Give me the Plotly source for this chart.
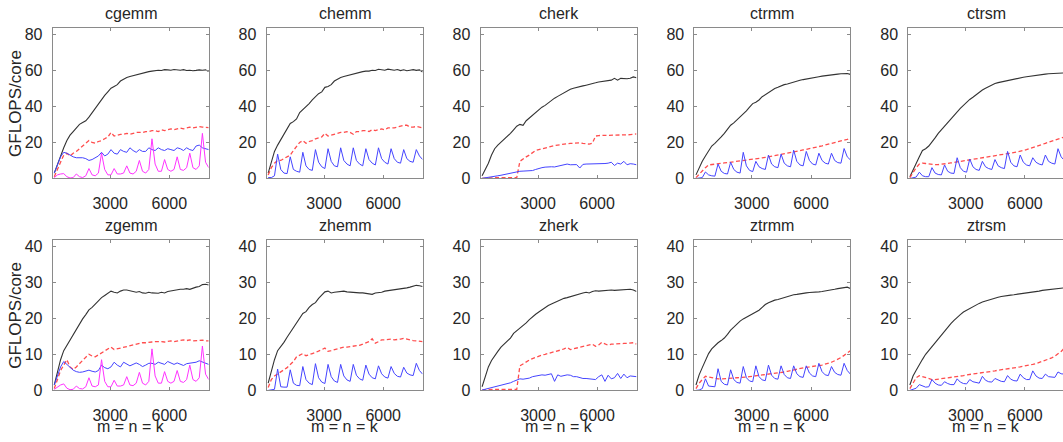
import plotly.graph_objects as go

# ---------------- data ----------------
SIZES = list(range(160, 8001, 160))  # m = n = k
ROUTINES = ["cgemm", "chemm", "cherk", "ctrmm", "ctrsm",
            "zgemm", "zhemm", "zherk", "ztrmm", "ztrsm"]
X_TICKS = [3000, 6000]
Y_TICKS_SINGLE = [0, 20, 40, 60, 80]
Y_TICKS_DOUBLE = [0, 10, 20, 30, 40]
PEAK_SINGLE = 83.2
PEAK_DOUBLE = 41.6

CGEMM_BLACK = [3, 8, 13, 17, 21, 24, 26, 28, 30, 31,
               32, 34, 36.5, 39, 41.5, 44, 46, 48, 50, 51,
               52, 54, 55, 56, 56.5, 57, 57.5, 58, 58.5, 59,
               59.2, 59.5, 59.8, 60, 59.8, 60.3, 60.2, 60, 60.4, 60.2,
               60, 60.3, 59.8, 60, 59.7, 59.9, 60.2, 60, 60.2, 59.2]
CGEMM_RED = [1, 5, 10, 13, 14, 12.5, 14, 15, 16.5, 18,
             19.5, 21, 20, 19.5, 20.5, 21, 22, 23, 25.5, 23.5,
             24, 24.5, 24.5, 25, 24.5, 25, 25.5, 25.5, 25.5, 26,
             26, 26.5, 26.5, 26, 27, 26.5, 27, 27.5, 27, 27.5,
             28, 27.5, 28, 28.5, 28, 28.5, 28.8, 28.5, 28.5, 28.2]
CGEMM_BLUE = [3, 8, 12, 14.5, 14, 13, 12, 11.5, 11.5, 11.5,
              11, 10, 10.5, 11.5, 12.5, 14.5, 12.5, 13.5, 16, 14,
              13.5, 16, 15, 14.5, 17, 15.5, 14.5, 16, 15, 15,
              17, 16, 15.5, 17, 16, 15.5, 16.5, 16, 15.5, 17,
              16.5, 15.5, 17, 16, 15.5, 18, 18.5, 17, 16.5, 16]
CGEMM_MAGENTA = [0.5, 2, 2.5, 2.7, 1.0, 0.3, 0.5, 2.5, 1.0, 0.5,
                 1.5, 5.5, 2, 1.5, 3, 14, 5, 2, 2, 5.5,
                 2.5, 2.5, 3, 7, 3, 2.5, 4, 10, 4, 3,
                 5, 22, 8, 4, 4, 10.5, 5, 4, 5, 12,
                 5, 4.5, 6, 14, 6, 5, 7, 25, 9, 6]

CHEMM_BLACK = [3, 9, 15, 18.5, 21.5, 24.5, 27.5, 30.5, 31.5, 33,
               36.5, 38, 39.5, 41.5, 43.5, 45.5, 47, 48, 50.5, 51,
               52, 54, 55, 56, 56.5, 57, 57.5, 58, 58.5, 59,
               59.2, 59.5, 59.5, 60, 59.8, 60.5, 60.2, 60, 60.6, 60.2,
               60, 60.4, 59.8, 60.2, 59.7, 60, 60.3, 59.9, 60.2, 59]
CHEMM_RED = [2, 6, 8.5, 10, 10, 11, 12, 13, 15.5, 18,
             20, 21, 19.5, 20.5, 21, 22, 22.5, 23, 25, 23.5,
             24, 24.5, 25, 25.5, 25.5, 26, 25.5, 24.5, 26, 26,
             26.5, 26.5, 26, 27, 26.5, 27, 27.5, 27, 28, 28,
             28, 28.5, 29, 29.5, 29.5, 28.5, 28.5, 28.8, 28.5, 28]
CHEMM_BLUE = [0.5, 0.5, 1.5, 13.5, 5, 3, 2.7, 12, 5, 4,
              3.5, 14.5, 7, 5, 4.5, 16, 9, 6.5, 5.5, 16.5,
              9.5, 7, 6.5, 17, 10, 8, 7, 17, 10, 8,
              7, 16.5, 10.5, 8.5, 7.5, 17, 11, 9, 8, 16.5,
              11, 9, 8.5, 16, 11, 9.5, 9, 16, 12.5, 10.5]

CHERK_BLACK = [1.5, 5, 8.5, 13, 16.5, 18.5, 20, 21.5, 23, 25,
               27, 29, 30, 29.5, 32, 33.5, 35.5, 37, 38.5, 39.5,
               40.5, 42, 43.5, 44.5, 45.5, 46.5, 47.5, 48.5, 49.5, 50,
               50.3, 50.8, 51.3, 51.7, 52, 52.5, 53, 53.5, 53.8, 54,
               54.3, 54.5, 55.5, 54.5, 55.5, 55.3, 55.3, 55.5, 56.3, 55.8]
CHERK_RED = [0.1, 0.3, 0.4, 0.4, 0.4, 0.5, 0.5, 0.5, 0.5, 0.5,
             0.5, 0.5, 9.5, 11, 12, 13, 14.5, 15.5, 16, 16.5,
             17, 17.5, 18, 18.2, 18.5, 18.8, 19, 19.3, 19.5, 19.5,
             19.8, 19.8, 19.5, 19.2, 19, 19.5, 23.5, 23.8, 23.8, 23.8,
             23.8, 23.8, 24, 24, 23.8, 24, 24.2, 24.3, 24.5, 24.7]
CHERK_BLUE = [0.1, 0.3, 0.6, 0.9, 1.2, 1.5, 1.8, 2.2, 2.6, 3,
              3.3, 3.7, 4, 4.1, 4.2, 4.3, 4.4, 5, 5.6, 6,
              6.3, 6.6, 6.5, 6.4, 6.8, 7.2, 7.5, 8, 7.6, 7.6,
              7.7, 5.8, 7.8, 8, 8, 8, 8.2, 8, 8, 8.3,
              8.5, 9, 7.2, 8.5, 8, 9.5, 7.6, 8.2, 8, 7.6]

CTRMM_BLACK = [2, 6, 9.5, 12.5, 15.5, 18, 19.5, 21, 23, 25,
               27.5, 29.5, 30.8, 32.5, 34, 35.5, 37.5, 39.5, 41.5, 42.3,
               43.5, 45.3, 46.5, 47.8, 48.8, 49.8, 50.5, 51.3, 52, 52.4,
               53, 53.6, 54, 54.4, 54.8, 55.2, 55.5, 55.8, 56.1, 56.4,
               56.7, 57, 57.2, 57.4, 57.6, 57.8, 58, 58, 58.2, 57.7]
CTRMM_RED = [0.5, 2.5, 4.5, 6, 7.5, 7.8, 8, 8.2, 8.4, 8.6,
             8.8, 9, 9.2, 9.4, 9.6, 9.9, 10.1, 10.3, 10.5, 10.8,
             11.1, 11.4, 11.7, 12, 12.4, 12.7, 13, 13.4, 13.7, 14.1,
             14.4, 14.8, 15.1, 15.4, 15.8, 16.1, 16.5, 16.9, 17.3, 17.7,
             18.1, 18.5, 18.9, 19.3, 19.7, 20.2, 20.7, 21.2, 21.7, 22.3]
CTRMM_BLUE = [0, 0.2, 0.5, 3.6, 2, 1.5, 1.3, 8, 4, 2.8,
              2.5, 9, 5, 3.5, 3, 14.5, 7, 4.5, 3.8, 9.5,
              6.5, 5.5, 5, 13, 8, 6.5, 6, 13.5, 8.5, 7,
              6.5, 15.7, 9.5, 7.5, 7, 15, 10, 8, 7.5, 14,
              10, 8.5, 8, 14, 10, 8.8, 8.5, 16.6, 12, 10.3]

CTRSM_BLACK = [1, 5, 9, 12, 15.5, 16.5, 18, 20, 22.5, 25,
               27, 29, 31, 33.3, 35.5, 37.3, 38.9, 40.5, 42.3, 43.8,
               45, 46.5, 48, 49, 50, 51, 52, 52.6, 53.1, 53.5,
               54, 54.5, 54.9, 55.2, 55.5, 55.8, 56.1, 56.4, 56.7, 57,
               57.2, 57.5, 57.7, 57.8, 58, 58.1, 58.2, 58.3, 58.4, 58.5]
CTRSM_RED = [0.5, 3.5, 6, 8, 8.5, 8.3, 8, 7.8, 7.7, 7.7,
             7.8, 8, 8.3, 8.6, 8.9, 9.2, 9.5, 9.8, 10.1, 10.4,
             10.7, 11, 11.3, 11.7, 12, 12.3, 12.6, 13, 13.2, 13.4,
             13.6, 13.8, 14, 14.3, 14.6, 15, 15.5, 16, 16.5, 17.1,
             17.7, 18.3, 18.9, 19.5, 20.1, 20.7, 21.3, 21.9, 22.5, 23]
CTRSM_BLUE = [0, 0.2, 0.8, 3.5, 1.5, 1, 1, 6, 3, 2.2,
              2, 7.5, 4, 3, 2.8, 11.5, 6, 4, 3.5, 10.8,
              6.5, 5, 4.5, 9.5, 6.5, 5.5, 5, 10.5, 7, 6,
              5.5, 15, 9, 7, 6.5, 13, 9, 7.5, 7, 11.5,
              9, 8, 7.5, 13, 9.5, 8.5, 8, 16.5, 12, 10]

ZGEMM_BLACK = [1.5, 5, 8.5, 11, 12.5, 14, 15.5, 17, 18.3, 19.8,
               21, 22.3, 23, 24, 24.8, 25.7, 26.3, 27, 27.5, 27.2,
               27, 27.5, 27.8, 27.8, 27.6, 27.5, 27.2, 27.4, 27, 26.9,
               27.2, 27, 27, 26.9, 27.2, 27, 27.4, 27.6, 27.8, 27.8,
               28, 28, 28.2, 28, 28.4, 28.6, 28.8, 29.3, 29.4, 29.2]
ZGEMM_RED = [0.5, 3, 5.5, 7, 8.5, 6.5, 5.8, 6.5, 7.5, 8.5,
             9.2, 10, 9.5, 9.3, 9.8, 10.3, 10.8, 11.3, 12, 11.3,
             11.5, 11.8, 12, 12.3, 12.3, 12.5, 12.8, 13, 13.2, 13.2,
             13.4, 13.4, 13.5, 13.6, 13.5, 13.4, 13.6, 13.7, 13.5, 13.7,
             13.8, 14, 13.8, 14, 13.7, 13.8, 13.8, 13.9, 13.7, 13.7]
ZGEMM_BLUE = [1.5, 4, 6.5, 8, 7.2, 6.3, 5.6, 5.2, 5, 5.1,
              5.3, 5.6, 5.3, 5.1, 5.5, 7, 6.3, 6, 6.5, 7.8,
              7, 6.5, 7.8, 7.2, 6.8, 7.2, 7.6, 7.2, 6.6, 7,
              7.5, 7.5, 7.2, 7.8, 7.4, 7.2, 8, 7.6, 7.2, 7.6,
              7.2, 6.9, 7.4, 7.5, 7.6, 7.8, 8.2, 7.9, 7.5, 7.2]
ZGEMM_MAGENTA = [0.3, 1, 1.5, 1.8, 0.6, 0.2, 0.3, 1.2, 0.5, 0.4,
                 1, 3.5, 1.2, 1, 1.5, 8.5, 2.5, 1, 1, 2.8,
                 1.2, 1.2, 1.5, 3.8, 1.5, 1.3, 2, 5, 2, 1.5,
                 2.5, 11.5, 4, 2, 2, 5.2, 2.5, 2, 2.5, 5.5,
                 2.5, 2.2, 3, 7, 3, 2.5, 3.5, 12.3, 4.5, 3]

ZHEMM_BLACK = [2, 5.5, 8.5, 11, 12, 13.3, 14.7, 16, 17.5, 18.6,
               20, 21.3, 21.8, 23, 23.8, 24.3, 25.5, 26.3, 27.3, 27.5,
               27, 27.2, 27.3, 27.4, 27.5, 27.3, 27.2, 27, 27.1, 27,
               27, 26.9, 26.7, 26.6, 27, 27, 27.2, 27.5, 27.6, 27.8,
               28, 28, 28.2, 28.3, 28.4, 28.6, 28.9, 29.1, 29, 28.8]
ZHEMM_RED = [0.8, 3, 4, 4.5, 5, 5.7, 6.3, 7.2, 8, 9.3,
             9.8, 10.2, 9.6, 9.8, 10.2, 10.5, 10.8, 11.3, 11.7, 10.8,
             11, 11.3, 11.5, 11.7, 12, 12, 12.1, 12.2, 12.2, 12.5,
             12.8, 13.1, 13.5, 14.3, 13.1, 13.5, 14, 14, 14.2, 14.2,
             14, 14, 14.2, 14.4, 14.2, 13.8, 13.8, 13.7, 13.6, 13.5]
ZHEMM_BLUE = [0, 0.1, 0.3, 5.9, 1, 0.9, 0.9, 5.7, 2, 1.4,
              1.3, 6.6, 3, 2, 1.6, 7.4, 3.5, 2.3, 1.9, 7.2,
              3.8, 2.6, 2.2, 7.2, 4, 2.9, 2.5, 7.2, 4.2, 3.2,
              2.8, 7, 4.5, 3.5, 3.2, 6.8, 4.6, 3.7, 3.4, 6.6,
              4.7, 3.9, 3.7, 6.4, 4.8, 4.3, 4.1, 7.5, 5.5, 4.5]

ZHERK_BLACK = [1, 4, 6.5, 8.3, 9.7, 10.8, 12, 12.8, 13.7, 14.5,
               15.8, 16.5, 17.3, 18.1, 18.7, 19.6, 20.4, 21.1, 21.7, 22.3,
               23, 23.5, 23.9, 24.3, 24.8, 25.2, 25.5, 25.7, 26, 26.2,
               26.5, 26.8, 27, 27.2, 27, 27.4, 27.6, 27.5, 27.6, 27.7,
               27.6, 27.8, 27.7, 27.8, 27.9, 28, 27.9, 28, 27.8, 27.4]
ZHERK_RED = [0.1, 0.2, 0.2, 0.3, 0.3, 0.3, 0.3, 0.3, 0.3, 0.3,
             0.3, 0.3, 6.8, 7.4, 7.9, 8.4, 8.8, 9.2, 9.5, 9.8,
             10, 10.2, 10.5, 10.8, 11, 11.2, 11.5, 11.9, 11.3, 11.5,
             11.8, 12, 12.3, 12.5, 12.6, 12.8, 12.2, 12.6, 13.3, 12.8,
             12.5, 12.8, 12.9, 12.8, 12.9, 13, 13, 13.1, 13.2, 12.8]
ZHERK_BLUE = [0.1, 0.3, 0.5, 0.7, 0.9, 1.1, 1.3, 1.5, 1.8, 2.1,
              2.5, 2.8, 3.2, 3.1, 3.2, 3.4, 3.8, 4, 4.2, 4.3,
              4.2, 4.4, 4.6, 2.5, 4.3, 3.9, 4.1, 4.3, 4.2, 3.8,
              3.8, 3.5, 3.3, 3.3, 3.2, 3.2, 3, 3.8, 4.3, 2.5,
              4.2, 3.2, 3.5, 4.7, 3.3, 4.5, 3.5, 4, 3.9, 3.8]

ZTRMM_BLACK = [1.5, 4.3, 6.3, 8.4, 10.2, 11.5, 12.4, 13.2, 13.8, 14.5,
               15.5, 16.7, 17.5, 18.4, 19.2, 19.8, 20.3, 20.7, 21.1, 21.6,
               22.2, 23, 23.8, 24.3, 24.7, 25, 25.2, 25.5, 25.7, 26,
               26.3, 26.5, 26.6, 26.8, 26.9, 27, 27.1, 27.1, 27.2, 27.3,
               27.4, 27.5, 27.6, 27.8, 28, 28.2, 28.3, 28.5, 28.6, 28.2]
ZTRMM_RED = [0.5, 2, 3, 3.9, 3.7, 3.5, 3.3, 3.2, 3.2, 3.2,
             3.3, 3.3, 3.4, 3.5, 3.5, 3.6, 3.7, 3.8, 3.9, 4,
             4.1, 4.2, 4.3, 4.4, 4.5, 4.6, 4.8, 4.9, 5.1, 5.3,
             5.5, 5.7, 5.9, 6.1, 6.2, 6.4, 6.5, 6.7, 6.8, 6.9,
             7, 7.2, 7.4, 7.8, 8.2, 8.6, 9.1, 9.7, 10.3, 11]
ZTRMM_BLUE = [0, 0.1, 0.5, 3.2, 1.2, 1, 1, 6, 2.5, 1.7,
              1.5, 5.7, 3, 2.2, 2, 6.6, 3.5, 2.6, 2.4, 6.8,
              3.8, 2.9, 2.7, 7, 4.2, 3.3, 3.1, 6.8, 4.4, 3.5,
              3.3, 6.8, 4.6, 3.8, 3.6, 6.8, 4.8, 4, 3.8, 7.5,
              5.2, 4.3, 4.1, 6.6, 5, 4.4, 4.2, 7.5, 5.5, 4.5]

ZTRSM_BLACK = [1.5, 4, 5.6, 7.3, 8.6, 10, 11.1, 12.1, 13.2, 14.2,
               15.3, 16.5, 17.5, 18.5, 19.4, 20.3, 21, 21.7, 22.2, 22.8,
               23.3, 23.7, 24.1, 24.5, 24.8, 25.1, 25.3, 25.5, 25.8, 26,
               26.2, 26.3, 26.4, 26.5, 26.6, 26.8, 26.9, 27, 27.1, 27.2,
               27.3, 27.5, 27.7, 27.8, 27.9, 28, 28.2, 28.4, 28.4, 28.4]
ZTRSM_RED = [0.5, 2.2, 3.5, 4.1, 3.8, 3.4, 3.1, 3, 3, 3.1,
             3.2, 3.4, 3.5, 3.6, 3.7, 3.9, 4, 4.1, 4.3, 4.4,
             4.6, 4.7, 4.9, 5, 5.1, 5.2, 5.3, 5.4, 5.6, 5.7,
             5.8, 6, 6.1, 6.2, 6.4, 6.5, 6.7, 6.8, 7, 7.2,
             7.4, 7.7, 7.9, 8.2, 8.6, 9, 9.5, 10.1, 10.8, 11.7]
ZTRSM_BLUE = [0, 0.3, 0.6, 1.6, 1.2, 0.9, 1, 3, 2, 1.5,
              1.4, 2.4, 1.9, 1.6, 1.6, 3.2, 2.3, 1.9, 1.8, 3,
              2.4, 2.1, 2, 3.9, 2.8, 2.4, 2.3, 3.3, 2.8, 2.5,
              2.4, 4.1, 3.1, 2.7, 2.6, 4.5, 3.5, 3, 3, 5.4,
              4, 3.4, 3.3, 4.5, 3.8, 3.6, 3.6, 5.1, 4.6, 4.5]

SERIES = {
    "cgemm": [("black", CGEMM_BLACK), ("red", CGEMM_RED), ("blue", CGEMM_BLUE), ("magenta", CGEMM_MAGENTA)],
    "chemm": [("black", CHEMM_BLACK), ("red", CHEMM_RED), ("blue", CHEMM_BLUE)],
    "cherk": [("black", CHERK_BLACK), ("red", CHERK_RED), ("blue", CHERK_BLUE)],
    "ctrmm": [("black", CTRMM_BLACK), ("red", CTRMM_RED), ("blue", CTRMM_BLUE)],
    "ctrsm": [("black", CTRSM_BLACK), ("red", CTRSM_RED), ("blue", CTRSM_BLUE)],
    "zgemm": [("black", ZGEMM_BLACK), ("red", ZGEMM_RED), ("blue", ZGEMM_BLUE), ("magenta", ZGEMM_MAGENTA)],
    "zhemm": [("black", ZHEMM_BLACK), ("red", ZHEMM_RED), ("blue", ZHEMM_BLUE)],
    "zherk": [("black", ZHERK_BLACK), ("red", ZHERK_RED), ("blue", ZHERK_BLUE)],
    "ztrmm": [("black", ZTRMM_BLACK), ("red", ZTRMM_RED), ("blue", ZTRMM_BLUE)],
    "ztrsm": [("black", ZTRSM_BLACK), ("red", ZTRSM_RED), ("blue", ZTRSM_BLUE)],
}

# ---------------- styling / layout ----------------
W, H = 1063, 442
FONT = "Liberation Sans, Arial, sans-serif"
TEXT_COLOR = "#262626"
AXIS_COLOR = "#8a8a8a"
LINE_STYLE = {
    "black": dict(color="#333333", width=1.1),
    "red": dict(color="#ff4d4d", width=1.3, dash="4px,2.5px"),
    "blue": dict(color="#4444ff", width=1.0),
    "magenta": dict(color="#ff33ff", width=1.0),
}
COL_LEFT = [52.7, 266.6, 480.5, 694.4, 908.3]
PANEL_W = 156.0
ROW_TOP = [27.0, 244.3]
ROW_BOTTOM = [181.0, 398.3]
X_MIN, X_MAX = 80, 8000

fig = go.Figure()
annotations = []
layout_axes = {}

for i, name in enumerate(ROUTINES):
    r, c = divmod(i, 5)
    n = i + 1
    xa = "x" if n == 1 else f"x{n}"
    ya = "y" if n == 1 else f"y{n}"
    left = COL_LEFT[c]
    right = left + PANEL_W
    x_hi = X_MAX
    if right > W:
        x_hi = X_MIN + (X_MAX - X_MIN) * (W - left) / PANEL_W
        right = W
    top, bottom = ROW_TOP[r], ROW_BOTTOM[r]

    for kind, vals in SERIES[name]:
        fig.add_trace(go.Scatter(x=SIZES, y=vals, mode="lines", line=LINE_STYLE[kind],
                                 xaxis=xa, yaxis=ya, showlegend=False, hoverinfo="skip"))

    common = dict(showline=True, linecolor=AXIS_COLOR, linewidth=1, ticks="inside",
                  ticklen=3, tickcolor=AXIS_COLOR, tickwidth=1, showgrid=False, zeroline=False,
                  tickfont=dict(family=FONT, size=16, color=TEXT_COLOR))
    layout_axes["xaxis" if n == 1 else f"xaxis{n}"] = dict(
        common, domain=[left / W, right / W], anchor=ya, range=[X_MIN, x_hi],
        tickvals=X_TICKS, ticktext=[str(v) for v in X_TICKS], mirror="ticks",
        ticklabelstandoff=10)
    yt = Y_TICKS_SINGLE if r == 0 else Y_TICKS_DOUBLE
    layout_axes["yaxis" if n == 1 else f"yaxis{n}"] = dict(
        common, domain=[1 - bottom / H, 1 - top / H], anchor=xa,
        range=[0, PEAK_SINGLE if r == 0 else PEAK_DOUBLE],
        tickvals=yt, ticktext=[str(v) for v in yt],
        mirror=("ticks" if c < 4 else False), ticklabelstandoff=6)

    annotations.append(dict(text=name, xref="paper", yref="paper",
                            x=(left + PANEL_W / 2) / W, y=1 - top / H,
                            xanchor="center", yanchor="bottom", yshift=4, showarrow=False,
                            font=dict(family=FONT, size=16, color=TEXT_COLOR)))
    if r == 1:
        annotations.append(dict(text="m = n = k", xref="paper", yref="paper",
                                x=(left + PANEL_W / 2) / W, y=0,
                                xanchor="center", yanchor="bottom", yshift=-4, showarrow=False,
                                font=dict(family=FONT, size=16, color=TEXT_COLOR)))

for r in range(2):
    annotations.append(dict(text="GFLOPS/core", xref="paper", yref="paper",
                            x=15.5 / W, y=1 - (ROW_TOP[r] + ROW_BOTTOM[r]) / 2 / H,
                            xanchor="center", yanchor="middle", textangle=-90, showarrow=False,
                            font=dict(family=FONT, size=17, color=TEXT_COLOR)))

fig.update_layout(width=W, height=H, margin=dict(l=0, r=0, t=0, b=0),
                  paper_bgcolor="white", plot_bgcolor="white", showlegend=False,
                  annotations=annotations, **layout_axes)

fig.write_html("out.html", config={"displayModeBar": False},
               post_script="document.body.style.margin='0';")
